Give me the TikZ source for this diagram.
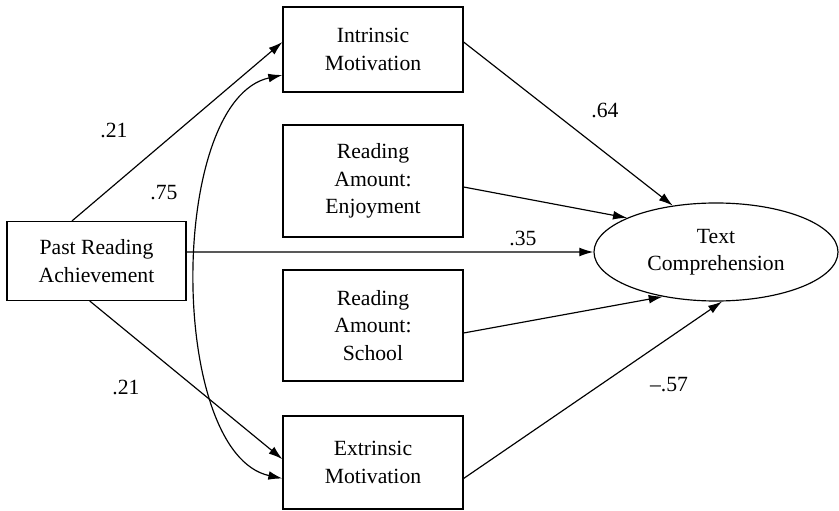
\documentclass[tikz,border=0pt]{standalone}
\usepackage{fontspec}
\setmainfont{Liberation Serif}
\usetikzlibrary{arrows.meta,shapes.geometric}
\begin{document}
\begin{tikzpicture}[x=0.03cm,y=-0.03cm,
  font=\fontsize{18.5}{23.5}\selectfont,
  var/.style={draw,line width=1pt,align=center,inner sep=0pt,minimum width=5.4cm},
  link/.style={line width=1pt,-{Latex[length=12pt,width=7.5pt]}},
  coef/.style={inner sep=0pt}]
\useasboundingbox (0,0) rectangle (839,511);
% variables
\node[var,minimum width=5.37cm,minimum height=2.37cm] (past) at (96.5,261) {Past Reading\\Achievement};
\node[var,minimum height=2.55cm] (intr) at (373,49.5) {Intrinsic\\Motivation};
\node[var,minimum height=3.36cm] (enjoy) at (373,181) {Reading\\Amount:\\Enjoyment};
\node[var,minimum height=3.33cm] (school) at (373,325.5) {Reading\\Amount:\\School};
\node[var,minimum height=2.79cm] (extr) at (373,462.5) {Extrinsic\\Motivation};
\node[draw,ellipse,line width=1pt,inner sep=0pt,align=center,minimum width=7.32cm,minimum height=2.94cm] (comp) at (716,252) {Text\\Comprehension};
% paths
\draw[link] ([xshift=-0.735cm]past.north) -- ([yshift=0.225cm]intr.west);
\draw[link] ([xshift=-0.2cm]past.south) -- ([yshift=0.1cm]extr.west);
\draw[link] ([yshift=0.27cm]past.east) -- (comp.west);
\draw[line width=1pt,{Latex[length=12pt,width=7.5pt]}-{Latex[length=12pt,width=7.5pt]}]
  ([yshift=-0.765cm]intr.west) .. controls +(-115,25) and +(-115,-25) .. ([yshift=-0.48cm]extr.west);
\draw[link] ([yshift=0.225cm]intr.east) -- (comp.133);
\draw[link] ([yshift=-0.18cm]enjoy.east) -- (comp.159);
\draw[link] ([yshift=-0.225cm]school.east) -- (comp.220);
\draw[link] ([yshift=-0.48cm]extr.east) -- (comp.277);
% coefficients
\node[coef] (c1) at (114,130) {.21};
\node[coef] (c2) at (164,193) {.75};
\node[coef] (c3) at (126,387) {.21};
\node[coef] (c4) at (605,110) {.64};
\node[coef] (c5) at (523,238) {.35};
\node[coef] (c6) at (669,385) {--.57};
\end{tikzpicture}
\end{document}
